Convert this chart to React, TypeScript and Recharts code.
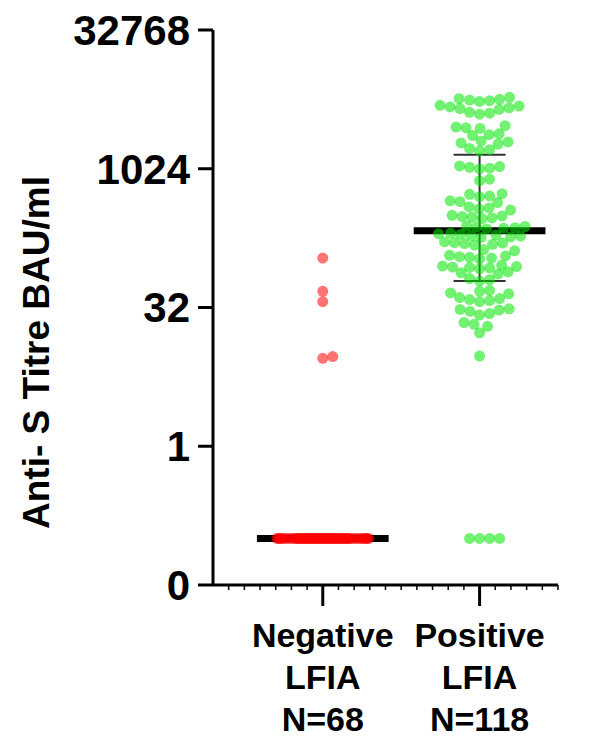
import { ErrorBar, Label, Scatter, ScatterChart, XAxis, YAxis } from "recharts";

const FONT = "'Liberation Sans', Arial, Helvetica, sans-serif";

// x position of each column and its label lines
const categories = [
  { x: 1, lines: ["Negative", "LFIA", "N=68"] },
  { x: 2, lines: ["Positive", "LFIA", "N=118"] },
];

const yTicks = [0.03125, 1, 32, 1024, 32768];
const xTicks = [
  0.4, 0.5, 0.6, 0.7, 0.8, 0.9, 1, 1.1, 1.2, 1.3, 1.4, 1.5, 1.6, 1.7, 1.8, 1.9,
  2, 2.1, 2.2, 2.3, 2.4, 2.5,
];

// Anti-S titre, BAU/ml (0.1 = below detection, drawn on the "0" floor)
const negativeValues = [
  110, 48, 37, 9.4, 9.0,
  0.1, 0.1, 0.1, 0.1, 0.1, 0.1, 0.1, 0.1, 0.1, 0.1,
  0.1, 0.1, 0.1, 0.1, 0.1, 0.1, 0.1, 0.1, 0.1, 0.1,
  0.1, 0.1, 0.1, 0.1, 0.1, 0.1, 0.1, 0.1, 0.1, 0.1,
  0.1, 0.1, 0.1, 0.1, 0.1, 0.1, 0.1, 0.1, 0.1, 0.1,
  0.1, 0.1, 0.1, 0.1, 0.1, 0.1, 0.1, 0.1, 0.1, 0.1,
  0.1, 0.1, 0.1, 0.1, 0.1, 0.1, 0.1, 0.1, 0.1, 0.1,
  0.1, 0.1, 0.1,
];

const positiveValues = [
  6100, 5900, 5800, 5700, 5600, 5500,
  5000, 4900, 4800, 4700, 4600, 4500,
  4200, 4100, 4000,
  3000, 2900, 2850, 2800,
  2450, 2400, 2350,
  2050, 2000, 1950, 1900,
  1700, 1650, 1600,
  1100, 1080, 1060, 1040, 1020,
  790, 760,
  550, 540, 520, 510,
  460, 450, 440,
  395, 385, 375, 365,
  320, 315, 310, 305, 300, 295,
  245, 242, 238, 235, 232, 228,
  205, 202, 199, 196, 193, 190, 187, 184,
  165, 162, 160, 158, 155, 152,
  136, 132,
  118, 116, 114, 112, 110, 108,
  92, 90, 89, 88, 87, 86, 84,
  78, 76, 74,
  66, 64, 62,
  49, 48, 46, 45,
  41, 40, 39, 38, 37,
  31, 30.5, 30, 29,
  27.5, 26.5,
  22, 21, 20,
  17,
  9.5,
  0.1, 0.1, 0.1, 0.1,
];

const negativeMedian = 0.1;
const positiveMedian = 217;
const positiveLower = 62;
const positiveUpper = 1450;

// layout
const W = 600;
const H = 739;
const MARGIN = { top: 30, right: 42, bottom: 0, left: 0 };
const Y_AXIS_W = 213;
const X_AXIS_H = 154;
const X_DOMAIN: [number, number] = [0.3, 2.5];
const Y_DOMAIN: [number, number] = [1 / 32, 32768];
const pxPerX = (W - MARGIN.left - MARGIN.right - Y_AXIS_W) / (X_DOMAIN[1] - X_DOMAIN[0]);
const pxPerLog = (H - MARGIN.top - MARGIN.bottom - X_AXIS_H) / Math.log2(Y_DOMAIN[1] / Y_DOMAIN[0]);

const DOT_R = 5.5;
const GAP = 10;
const HALF_SPREAD = 46;
const BAR_HALF = 0.42;

// simple beeswarm: push each dot sideways until it no longer overlaps,
// overlap as little as possible once the column is full
function swarm(values: number[], center: number) {
  const placed: { dx: number; py: number }[] = [];
  const order = values.map((_, i) => i).sort((a, b) => values[a] - values[b]);
  const out: { x: number; y: number }[] = new Array(values.length);
  for (const i of order) {
    const py = Math.log2(values[i]) * pxPerLog;
    const near = placed.filter((p) => Math.abs(p.py - py) < GAP);
    let chosen = 0;
    let best = -1;
    for (let k = 0; k <= HALF_SPREAD * 4; k++) {
      const dx = (k % 2 === 1 ? 1 : -1) * Math.ceil(k / 2) * 0.5;
      let minD = Infinity;
      for (const p of near) minD = Math.min(minD, Math.hypot(p.dx - dx, p.py - py));
      if (minD >= GAP) {
        chosen = dx;
        break;
      }
      if (minD > best + 1e-9) {
        best = minD;
        chosen = dx;
      }
    }
    placed.push({ dx: chosen, py });
    out[i] = { x: center + chosen / pxPerX, y: values[i] };
  }
  return out;
}

const negativeData = swarm(negativeValues, categories[0].x);
const positiveData = swarm(positiveValues, categories[1].x);

const negativeBar = [
  { x: categories[0].x - BAR_HALF, y: negativeMedian },
  { x: categories[0].x + BAR_HALF, y: negativeMedian },
];
const positiveBar = [
  { x: categories[1].x - BAR_HALF, y: positiveMedian },
  { x: categories[1].x + BAR_HALF, y: positiveMedian },
];
const positiveSpread = [
  {
    x: categories[1].x,
    y: positiveMedian,
    err: [positiveMedian - positiveLower, positiveUpper - positiveMedian],
  },
];

const Hidden = () => <g />;

const dot = (color: string) => (props: any) =>
  <circle cx={props.cx} cy={props.cy} r={DOT_R} fill={color} fillOpacity={0.55} />;

const CategoryTick = (props: any) => {
  const { x, y, payload } = props;
  const cat = categories.find((c) => Math.abs(c.x - payload.value) < 1e-6);
  if (!cat) {
    return <line x1={x} x2={x} y1={y} y2={y + 5} stroke="#000" strokeWidth={1.5} />;
  }
  return (
    <g>
      <line x1={x} x2={x} y1={y} y2={y + 21} stroke="#000" strokeWidth={3} />
      <text textAnchor="middle" fill="#000" fontSize={34} fontWeight="bold" fontFamily={FONT}>
        {cat.lines.map((line, i) => (
          <tspan key={i} x={x} y={y + 62 + i * 42}>
            {line}
          </tspan>
        ))}
      </text>
    </g>
  );
};

const YTitle = (props: any) => {
  const { viewBox } = props;
  const cx = viewBox.x + 49;
  const cy = viewBox.y + viewBox.height / 2 + 45;
  return (
    <text
      x={cx}
      y={cy}
      transform={`rotate(-90, ${cx}, ${cy})`}
      textAnchor="middle"
      fill="#000"
      fontSize={37}
      fontWeight="bold"
      fontFamily={FONT}
    >
      Anti- S Titre BAU/ml
    </text>
  );
};

export default function App() {
  return (
    <div style={{ position: "absolute", left: 0, top: 0, width: W, height: H, background: "#fff" }}>
      <ScatterChart width={W} height={H} margin={MARGIN}>
        <XAxis
          type="number"
          dataKey="x"
          domain={X_DOMAIN}
          ticks={xTicks}
          interval={0}
          allowDataOverflow
          height={X_AXIS_H}
          axisLine={{ stroke: "#000", strokeWidth: 3 }}
          tickLine={false}
          tickSize={0}
          tickMargin={0}
          tick={(p: any) => <CategoryTick {...p} />}
        />
        <YAxis
          type="number"
          dataKey="y"
          scale="log"
          domain={Y_DOMAIN}
          ticks={yTicks}
          interval={0}
          allowDataOverflow
          width={Y_AXIS_W}
          axisLine={{ stroke: "#000", strokeWidth: 3 }}
          tickLine={{ stroke: "#000", strokeWidth: 3 }}
          tickSize={15}
          tickMargin={8}
          tickFormatter={(v: number) => (v < 0.5 ? "0" : String(v))}
          tick={{ fill: "#000", fontSize: 42, fontWeight: "bold", fontFamily: FONT }}
        >
          <Label content={YTitle} />
        </YAxis>
        <Scatter
          data={negativeBar}
          line={{ stroke: "#000", strokeWidth: 7 }}
          shape={Hidden}
          isAnimationActive={false}
        />
        <Scatter
          data={positiveBar}
          line={{ stroke: "#000", strokeWidth: 7 }}
          shape={Hidden}
          isAnimationActive={false}
        />
        <Scatter data={positiveSpread} shape={Hidden} isAnimationActive={false}>
          <ErrorBar
            dataKey="err"
            direction="y"
            width={26}
            stroke="#333"
            strokeWidth={2}
            isAnimationActive={false}
          />
        </Scatter>
        <Scatter data={negativeData} shape={dot("#ff0000")} isAnimationActive={false} />
        <Scatter data={positiveData} shape={dot("#00e600")} isAnimationActive={false} />
      </ScatterChart>
    </div>
  );
}
